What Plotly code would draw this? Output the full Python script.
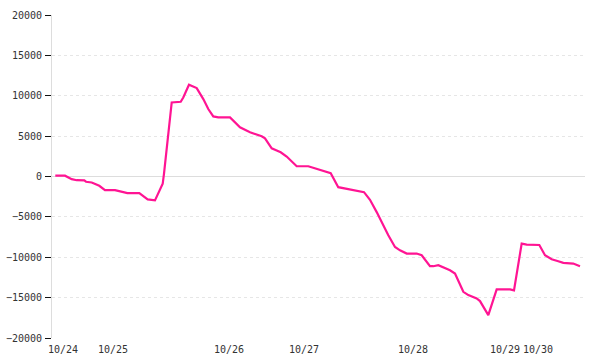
import plotly.graph_objects as go

# x positions (time index, 0..100 across the plot) and values
t = [0.62, 2.44, 3.70, 4.63, 6.06, 6.38, 7.45, 8.07, 8.87, 9.94,
     11.82, 13.38, 14.13, 16.38, 17.45, 17.95, 19.32, 19.70, 20.26, 20.77,
     21.01, 21.82, 22.46, 24.15, 24.63, 25.70, 26.32, 27.15, 28.39, 29.32,
     30.26, 31.20, 33.40, 35.27, 37.15, 39.34, 39.96, 41.22, 42.16, 42.91,
     44.03, 45.91, 48.09, 49.66, 50.90, 52.29, 53.71, 54.65, 55.91, 57.79,
     58.54, 59.66, 60.92, 63.10, 64.35, 65.29, 66.55, 68.42, 69.36, 70.92,
     71.54, 72.48, 73.41, 74.67, 75.61, 77.17, 78.11, 79.68, 80.30, 80.92,
     81.86, 83.43, 85.93, 86.68, 88.12, 89.06, 91.43, 92.50, 93.75, 94.99,
     95.93, 97.80, 99.06]
values = [100, 100, -330, -460, -490, -650, -740, -900, -1150, -1690,
          -1690, -1940, -2060, -2060, -2560, -2840, -2960, -2470, -1730, -900,
          330, 4850, 9170, 9260, 9790, 11360, 11200, 10950, 9590, 8360,
          7440, 7320, 7320, 6090, 5470, 4980, 4730, 3490, 3210, 3000,
          2470, 1270, 1270, 950, 650, 410, -1320, -1440, -1600, -1890,
          -1940, -2880, -4410, -7280, -8730, -9140, -9540, -9540, -9750, -11110,
          -11110, -10990, -11270, -11610, -12010, -14280, -14690, -15100, -15430, -16140,
          -17160, -13990, -13990, -14110, -8310, -8430, -8480, -9750, -10250, -10490,
          -10700, -10780, -11110]

tick_pos = [2.06, 11.44, 33.21, 47.28, 67.73, 85.0, 91.18]
tick_text = ["10/24", "10/25", "10/26", "10/27", "10/28", "10/29", "10/30"]
y_ticks = [-20000, -15000, -10000, -5000, 0, 5000, 10000, 15000, 20000]

fig = go.Figure()
fig.add_trace(go.Scatter(x=t, y=values, mode="lines",
                         line=dict(color="#ff1493", width=2.2),
                         hoverinfo="skip"))

font = dict(family="DejaVu Sans Mono", size=10, color="#333333")
fig.update_layout(
    width=600, height=360,
    margin=dict(l=52, r=15, t=15, b=22),
    paper_bgcolor="white", plot_bgcolor="white",
    showlegend=False,
    font=font,
    xaxis=dict(range=[0, 100], showgrid=False, zeroline=False, showline=False,
               tickmode="array", tickvals=tick_pos, ticktext=tick_text,
               ticks="", tickfont=font, ticklabelstandoff=4, automargin=False),
    yaxis=dict(range=[-20000, 20000], tickmode="array", tickvals=y_ticks,
               ticktext=[str(v).replace("-", "\u2212") for v in y_ticks],
               showgrid=True, gridcolor="#e6e6e6", griddash="dot", gridwidth=1,
               zeroline=True, zerolinecolor="#dddddd", zerolinewidth=1,
               showline=True, linecolor="#dddddd", linewidth=1,
               ticks="outside", ticklen=6, tickcolor="#111111", tickwidth=1,
               tickfont=font, ticklabelstandoff=1, automargin=False),
)

fig.write_html("out.html")
